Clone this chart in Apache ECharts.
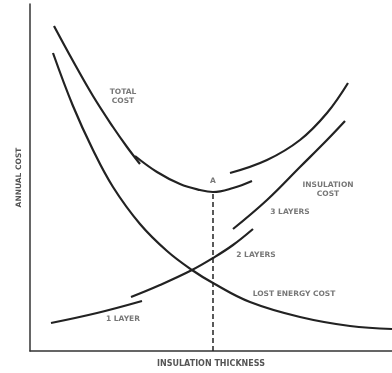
<!DOCTYPE html>
<html>
<head>
<meta charset="utf-8">
<script src="https://cdn.jsdelivr.net/npm/echarts@6/dist/echarts.min.js"></script>
<style>html,body{margin:0;padding:0;background:#fff}#c{width:392px;height:373px}</style>
</head>
<body>
<div id="c"></div>
<script>
// Schematic values (arbitrary units: x = insulation thickness, y = annual cost)
var lostEnergy = [[23,298],[43,245],[63,201],[83,164],[110,127],[137,100],[162,81],[183,68],[220,49],[270,34],[320,25],[362,22]];
var totalCost1 = [[24,325],[43,290],[63,255],[83,224],[97,204],[110,187]];
var totalCost2 = [[105,195],[127,179],[150,167],[170,161],[183,159],[203,163],[222,170]];
var totalCost3 = [[200,178],[237,191],[270,211],[297,238],[318,268]];
var layer1 = [[21,28],[67,38],[112,50]];
var layer2 = [[101,54],[130,66],[162,81],[183,93],[203,106],[223,122]];
var layer3 = [[203,122],[237,151],[270,184],[297,211],[315,230]];
var optimum = [[183,0],[183,159]];
var labels = [
  {text:'TOTAL\nCOST', at:[93,254]},
  {text:'A', at:[183,170]},
  {text:'INSULATION\nCOST', at:[298,161]},
  {text:'3 LAYERS', at:[260,139]},
  {text:'2 LAYERS', at:[226,96]},
  {text:'LOST ENERGY COST', at:[264,57]},
  {text:'1 LAYER', at:[93,32]}
];
var xTitle = 'INSULATION THICKNESS';
var yTitle = 'ANNUAL COST';

var LINE = '#222';
var TXT = '#555';
var FONT = 'DejaVu Sans';

function curve(d){
  return {type:'line', data:d, smooth:0.4, symbol:'none', silent:true,
    lineStyle:{color:LINE, width:2.2}};
}

var chart = echarts.init(document.getElementById('c'), null, {renderer:'canvas'});
chart.setOption({
  animation:false,
  backgroundColor:'#fff',
  grid:{left:30, right:0, top:4, bottom:22, containLabel:false},
  xAxis:{type:'value', min:0, max:362,
    axisLine:{show:true, lineStyle:{color:'#333', width:1.5}},
    axisTick:{show:false}, axisLabel:{show:false}, splitLine:{show:false},
    name:xTitle, nameLocation:'middle', nameGap:9,
    nameTextStyle:{color:TXT, fontSize:8, fontWeight:'bold', fontFamily:FONT}},
  yAxis:{type:'value', min:0, max:347,
    axisLine:{show:true, lineStyle:{color:'#333', width:1.5}},
    axisTick:{show:false}, axisLabel:{show:false}, splitLine:{show:false},
    name:yTitle, nameLocation:'middle', nameGap:7, nameRotate:90,
    nameTextStyle:{color:TXT, fontSize:7.5, fontWeight:'bold', fontFamily:FONT}},
  series:[
    curve(lostEnergy), curve(totalCost1), curve(totalCost2), curve(totalCost3),
    curve(layer1), curve(layer2), curve(layer3),
    {type:'line', data:optimum, symbol:'none', silent:true,
      lineStyle:{color:LINE, width:1.5, type:[5,3]}},
    {type:'scatter', symbolSize:0, silent:true,
      data:labels.map(function(l){return {value:l.at, name:l.text};}),
      label:{show:true, position:'inside', formatter:function(p){return p.name;},
        color:TXT, fontSize:7.5, fontWeight:'bold', fontFamily:FONT, lineHeight:9, align:'center'}}
  ]
});
</script>
</body>
</html>
